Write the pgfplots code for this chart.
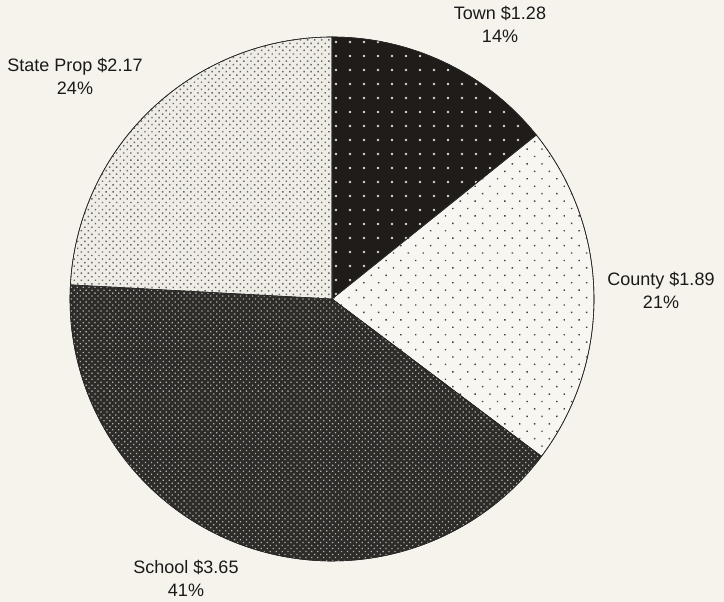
\documentclass[border=0pt]{standalone}
\usepackage{pgfplots}
\pgfplotsset{compat=1.18}
\usepackage{fontspec}
\setmainfont{Liberation Sans}
\usetikzlibrary{patterns.meta}
\definecolor{bg}{HTML}{F5F3EB}
\definecolor{townc}{HTML}{1F1C19}
\definecolor{countyc}{HTML}{F7F6F0}
\definecolor{schoolc}{HTML}{2E2C29}
\definecolor{statec}{HTML}{EEECE5}
\definecolor{txt}{HTML}{1A1A1A}
\begin{document}
\begin{tikzpicture}[x=1bp,y=1bp]
% values (dollars per slice, clockwise from 12 o'clock)
\pgfmathsetmacro\vTown{1.28}
\pgfmathsetmacro\vCounty{1.89}
\pgfmathsetmacro\vSchool{3.65}
\pgfmathsetmacro\vState{2.17}
\pgfmathsetmacro\tot{\vTown+\vCounty+\vSchool+\vState}
\pgfmathsetmacro\aA{90}
\pgfmathsetmacro\aB{\aA-\vTown/\tot*360}
\pgfmathsetmacro\aC{\aB-\vCounty/\tot*360}
\pgfmathsetmacro\aD{\aC-\vSchool/\tot*360}
\pgfmathsetmacro\aE{\aD-\vState/\tot*360}
\fill[bg] (0,0) rectangle (724,602);
\begin{axis}[
  at={(70bp,41bp)}, anchor=south west,
  scale only axis, width=524bp, height=524bp,
  xmin=-1, xmax=1, ymin=-1, ymax=1,
  hide axis, clip=false,
]
\addplot[fill=townc, draw=black!85, line width=0.6bp, domain=\aB:\aA, samples=80, variable=\t,
  postaction={pattern={Dots[distance=14bp, radius=1.3bp]}, pattern color=white!85!black}]
  ({cos(\t)},{sin(\t)}) -- (axis cs:0,0) -- cycle;
\addplot[fill=countyc, draw=black!85, line width=0.6bp, domain=\aC:\aB, samples=80, variable=\t,
  postaction={pattern={Dots[distance=10.5bp, radius=1bp, angle=45]}, pattern color=black!75}]
  ({cos(\t)},{sin(\t)}) -- (axis cs:0,0) -- cycle;
\addplot[fill=schoolc, draw=black!85, line width=0.6bp, domain=\aD:\aC, samples=120, variable=\t,
  postaction={pattern={Dots[distance=4.2bp, radius=0.9bp, angle=45]}, pattern color=black!30}]
  ({cos(\t)},{sin(\t)}) -- (axis cs:0,0) -- cycle;
\addplot[fill=statec, draw=black!85, line width=0.6bp, domain=\aE:\aD, samples=80, variable=\t,
  postaction={pattern={Dots[distance=5bp, radius=1bp, angle=45]}, pattern color=black!60}]
  ({cos(\t)},{sin(\t)}) -- (axis cs:0,0) -- cycle;
\end{axis}
\begin{scope}[every node/.style={align=center, text=txt, font=\fontsize{18bp}{23bp}\selectfont, inner sep=0pt}]
\node at (500,577.5) {Town \$1.28\\14\%};
\node at (661,311.5) {County \$1.89\\21\%};
\node at (186,23.5) {School \$3.65\\41\%};
\node at (75,525.5) {State Prop \$2.17\\24\%};
\end{scope}
\end{tikzpicture}
\end{document}
